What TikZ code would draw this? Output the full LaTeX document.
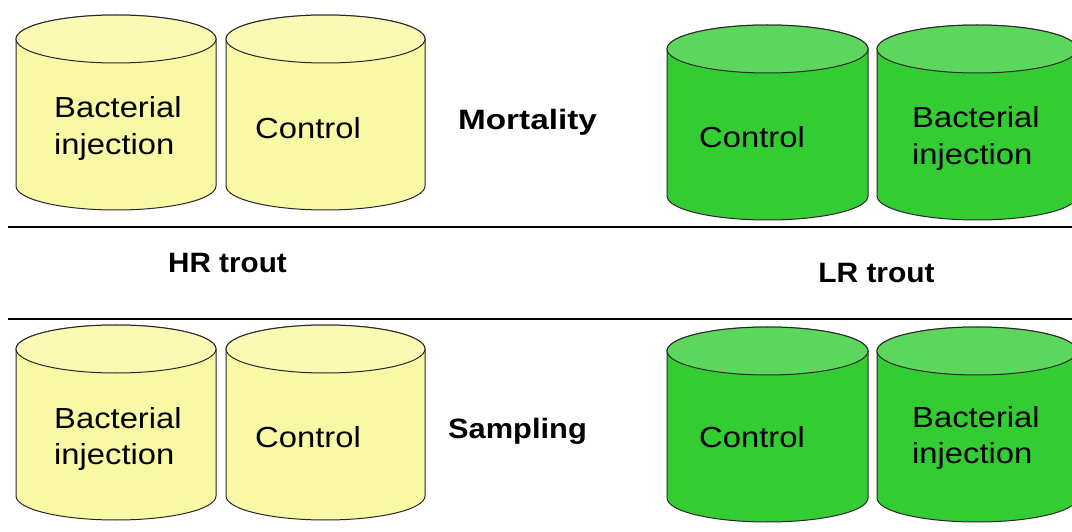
\documentclass[tikz,border=0pt]{standalone}
\usepackage{fontspec}
\setmainfont{Liberation Sans}
\usepackage{graphicx}
\definecolor{ybody}{RGB}{249,249,165}
\definecolor{ytop}{RGB}{250,250,180}
\definecolor{gbody}{RGB}{51,204,51}
\definecolor{gtop}{RGB}{92,214,92}
\definecolor{rim}{RGB}{40,40,40}
\newcommand{\tank}[7]{% cx, rx, top centre y, bottom centre y, ry, body, top
  \filldraw[tankline, fill=#6] ({#1-#2},#3) -- ({#1-#2},#4)
    arc[start angle=180, end angle=360, x radius=#2, y radius=#5]
    -- ({#1+#2},#3)
    arc[start angle=0, end angle=180, x radius=#2, y radius=#5] -- cycle;
  \filldraw[tankline, fill=#7] (#1,#3) ellipse[x radius=#2, y radius=#5];
}
\newcommand{\twol}[2]{\scalebox{1.13}[1]{\begin{tabular}[t]{@{}l@{}}#1\\#2\end{tabular}}}
\newcommand{\onel}[1]{\scalebox{1.13}[1]{#1}}
\begin{document}
\begin{tikzpicture}[x=1pt,y=1pt,
  tankline/.style={draw=rim, line width=1pt},
  lbl/.style={anchor=base, inner sep=0pt, font=\fontsize{29pt}{36.5pt}\selectfont},
  head/.style={anchor=base, inner sep=0pt, font=\fontsize{28pt}{32pt}\selectfont\bfseries},
  rule/.style={draw=black, line width=1.2pt}]
\useasboundingbox (0,0) rectangle (1072,531);
% tanks
\tank{116}{100}{492}{345}{24}{ybody}{ytop}
\tank{325.5}{99.5}{492}{345}{24}{ybody}{ytop}
\tank{767.5}{100.5}{482}{335}{24}{gbody}{gtop}
\tank{977}{100}{482}{335}{24}{gbody}{gtop}
\tank{116}{100}{182}{35}{24}{ybody}{ytop}
\tank{325.5}{99.5}{182}{35}{24}{ybody}{ytop}
\tank{767.5}{100.5}{180}{33}{24}{gbody}{gtop}
\tank{977}{100}{180}{33}{24}{gbody}{gtop}
% labels in tanks
\node[lbl, anchor=base west] (hrb1) at (54,413) {\twol{Bacterial}{injection}};
\node[lbl] (hrc1) at (308,392) {\onel{Control}};
\node[lbl] (lrc1) at (752,383) {\onel{Control}};
\node[lbl, anchor=base west] (lrb1) at (912,403) {\twol{Bacterial}{injection}};
\node[lbl, anchor=base west] (hrb2) at (54,103) {\twol{Bacterial}{injection}};
\node[lbl] (hrc2) at (308,84) {\onel{Control}};
\node[lbl] (lrc2) at (752,84) {\onel{Control}};
\node[lbl, anchor=base west] (lrb2) at (912,104) {\twol{Bacterial}{injection}};
% headings
\node[head] (mort) at (527.5,401) {\scalebox{1.19}[1]{Mortality}};
\node[head] (hr) at (227.5,258) {\scalebox{1.06}[1]{HR trout}};
\node[head] (lr) at (876.5,248) {\scalebox{1.07}[1]{LR trout}};
\node[head] (samp) at (517.5,93) {\scalebox{1.10}[1]{Sampling}};
% rules
\coordinate (r1a) at (8,304);
\coordinate (r1b) at (1072,304);
\coordinate (r2a) at (8,212);
\coordinate (r2b) at (1072,212);
\draw[rule] (r1a) -- (r1b);
\draw[rule] (r2a) -- (r2b);
\end{tikzpicture}
\end{document}
